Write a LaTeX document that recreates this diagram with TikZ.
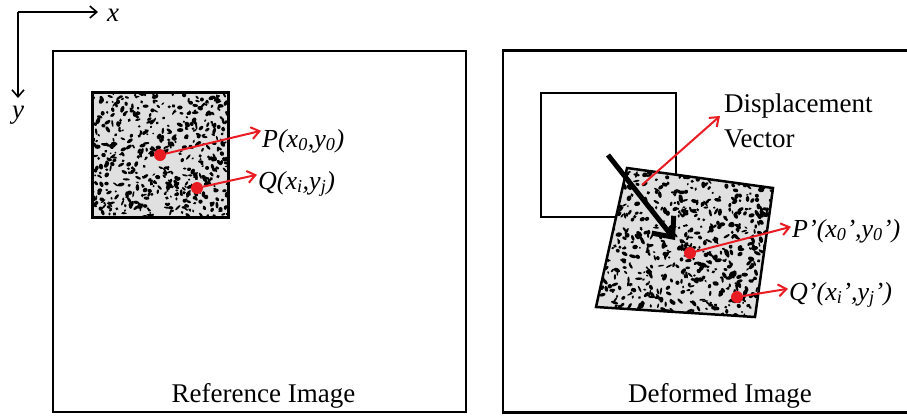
\documentclass[tikz,border=0pt]{standalone}
\usepackage{fontspec}
\setmainfont{Liberation Serif}
\usetikzlibrary{arrows.meta, positioning, calc}
\definecolor{colSpeckle}{RGB}{224,224,224}
\definecolor{colMark}{RGB}{232,28,34}
\tikzset{
  frameBox/.style={
    rectangle, draw=black, line width=2.5pt,
    inner sep=0pt
  },
  subsetBox/.style={
    rectangle, draw=black, line width=2.2pt,
    inner sep=0pt, minimum width=135pt, minimum height=124pt
  },
  caption/.style={
    font=\fontsize{27}{32}\selectfont, anchor=base, inner sep=0pt
  },
  coordLabel/.style={
    font=\fontsize{26}{32}\selectfont\itshape, anchor=base west, inner sep=1pt
  },
  marker/.style={
    circle, fill=colMark, inner sep=0pt, minimum size=12pt
  },
  axisArr/.style={
    -{Straight Barb[length=7pt,width=12pt]}, line width=1.6pt
  },
  redArr/.style={
    -{Straight Barb[length=8pt,width=12pt]}, line width=2pt, color=colMark
  },
  dispArr/.style={
    -{Straight Barb[length=16pt,width=28pt]}, line width=5pt
  }
}

\begin{document}
\begin{tikzpicture}[x=1pt, y=-1pt]
\useasboundingbox (0,0) rectangle (907,416);

%% ==============================================================
%% Axes
%% ==============================================================
\coordinate (origin) at (18,12);
\coordinate (xEnd) at (98,12);
\coordinate (yEnd) at (18,98);
\draw[axisArr] (origin) -- (xEnd);
\draw[axisArr] (origin) -- (yEnd);
\node[font=\fontsize{27}{32}\selectfont\itshape, anchor=west, inner sep=0pt] (xLabel) at (107,15) {x};
\node[font=\fontsize{27}{32}\selectfont\itshape, below=8pt of yEnd, inner sep=0pt] (yLabel) {y};

%% ==============================================================
%% Reference image
%% ==============================================================
\node[frameBox, minimum width=413pt, minimum height=361pt] (refFrame) at (259.5,231.5) {};
\node[caption] (refCaption) at (263.5,402) {Reference Image};

% --- speckled subset ---
\node[subsetBox, fill=colSpeckle] (refSub) at (160.5,155) {};
\begin{scope}
  \clip (refSub.south west) rectangle (refSub.north east);
  \pgfmathsetseed{4711}
  \foreach \k in {1,...,520}{
    \pgfmathsetmacro\u{rnd}
    \pgfmathsetmacro\v{rnd}
    \pgfmathsetmacro\px{93+135*\u}
    \pgfmathsetmacro\py{93+124*\v}
    \pgfmathsetmacro\ra{1.0+2.6*rnd}
    \pgfmathsetmacro\rb{0.8+1.4*rnd}
    \pgfmathsetmacro\ang{360*rnd}
    \fill[black, rotate around={\ang:(\px,\py)}] (\px,\py) ellipse (\ra pt and \rb pt);
  }
\end{scope}
\draw[line width=2.2pt] (refSub.south west) rectangle (refSub.north east);

% --- subset points ---
\node[marker] (refP) at (160,155) {};
\node[marker] (refQ) at (197,188) {};
\node[coordLabel] (refPLabel) at (261,147) {P(x\textsubscript{0},y\textsubscript{0})};
\node[coordLabel] (refQLabel) at (257,189) {Q(x\textsubscript{i},y\textsubscript{j})};
\draw[redArr] (refP) -- ([yshift=10pt]refPLabel.west);
\draw[redArr] (refQ) -- ([yshift=9pt]refQLabel.west);

%% ==============================================================
%% Deformed image
%% ==============================================================
\node[frameBox, minimum width=410pt, minimum height=362pt] (defFrame) at (708,231.5) {};
\node[caption] (defCaption) at (720,402) {Deformed Image};

% --- original subset position ---
\node[subsetBox, fill=white] (oldSub) at (608.5,155) {};

% --- deformed subset ---
\coordinate (defTL) at (627,168);
\coordinate (defTR) at (773,188);
\coordinate (defBR) at (755,317);
\coordinate (defBL) at (596,307);
\fill[colSpeckle] (defTL) -- (defTR) -- (defBR) -- (defBL) -- cycle;
\begin{scope}
  \clip (defTL) -- (defTR) -- (defBR) -- (defBL) -- cycle;
  \pgfmathsetseed{815}
  \foreach \k in {1,...,560}{
    \pgfmathsetmacro\u{rnd}
    \pgfmathsetmacro\v{rnd}
    \pgfmathsetmacro\px{627+146*\u-31*\v+13*\u*\v}
    \pgfmathsetmacro\py{168+20*\u+139*\v-10*\u*\v}
    \pgfmathsetmacro\ra{1.0+2.8*rnd}
    \pgfmathsetmacro\rb{0.8+1.5*rnd}
    \pgfmathsetmacro\ang{360*rnd}
    \fill[black, rotate around={\ang:(\px,\py)}] (\px,\py) ellipse (\ra pt and \rb pt);
  }
\end{scope}
\draw[line width=2.5pt, line join=miter] (defTL) -- (defTR) -- (defBR) -- (defBL) -- cycle;

% --- displacement ---
\coordinate (moveStart) at (608,155);
\coordinate (moveEnd) at (675,240);
\draw[dispArr] (moveStart) -- (moveEnd);

\node[font=\fontsize{27}{35}\selectfont, align=left, anchor=west, inner sep=0pt] (dispLabel)
    at (724,121) {Displacement\\Vector};
\coordinate (dispStart) at (642,185);
\draw[redArr] (dispStart) -- ([xshift=-4pt,yshift=5pt]dispLabel.west);

% --- deformed points ---
\node[marker] (defP) at (690,253) {};
\node[marker] (defQ) at (737,297) {};
\node[coordLabel] (defPLabel) at (791,237) {P’(x\textsubscript{0}’,y\textsubscript{0}’)};
\node[coordLabel] (defQLabel) at (788,300) {Q’(x\textsubscript{i}’,y\textsubscript{j}’)};
\draw[redArr] (defP) -- ([yshift=4pt]defPLabel.west);
\draw[redArr] (defQ) -- ([yshift=6pt]defQLabel.west);

\end{tikzpicture}
\end{document}
